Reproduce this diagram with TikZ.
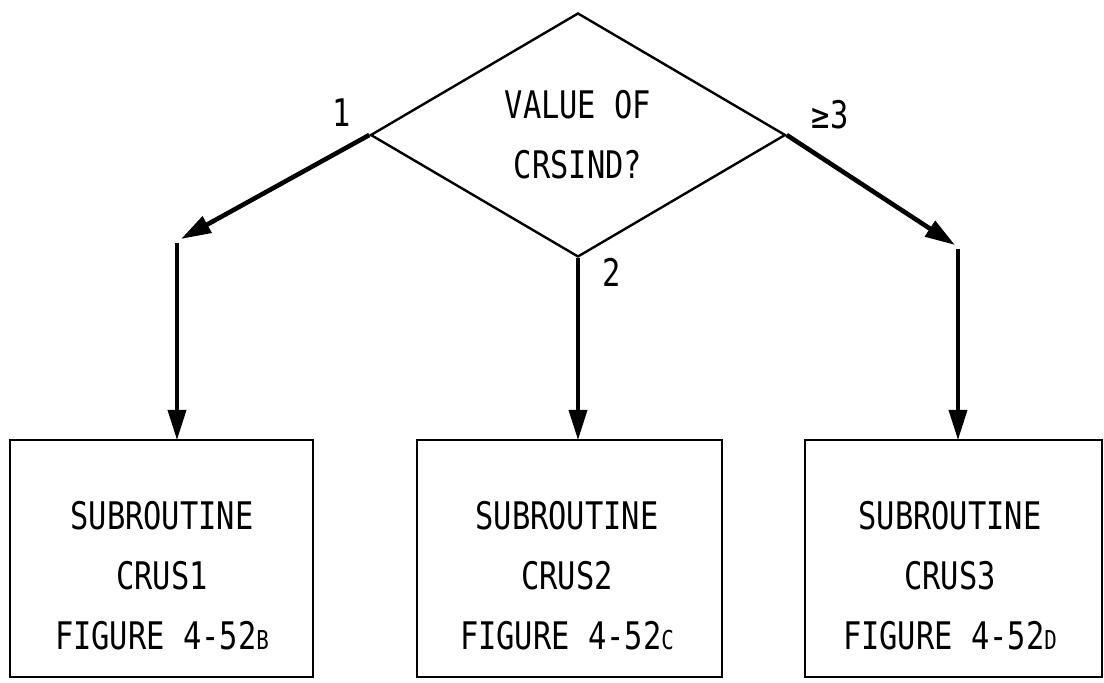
\documentclass[tikz,border=0pt]{standalone}
\usepackage{fontspec}
\setmainfont{DejaVu Sans Mono}
\usetikzlibrary{shapes.geometric,arrows.meta}
\newcommand{\nt}[1]{\scalebox{0.8}[1]{#1}}
\newcommand{\sml}[1]{{\fontsize{13pt}{13pt}\selectfont #1}}
\begin{document}
\begin{tikzpicture}[x=0.5pt,y=-0.5pt,
  txt/.style={font=\fontsize{19pt}{30pt}\selectfont, align=center, inner sep=0pt},
  decision/.style={diamond, draw, line width=1.2pt, minimum width=207.5pt, minimum height=122pt, inner sep=0pt, shape aspect=1.7, font=\fontsize{19pt}{30pt}\selectfont, align=center},
  subbox/.style={draw, line width=1.1pt, minimum height=118.5pt, inner sep=0pt, outer sep=0pt},
  diagarrow/.style={line width=2.3pt, -{Triangle[length=15pt,width=9pt]}},
  vertarrow/.style={line width=1.8pt, -{Triangle[length=15pt,width=9pt]}}]
\useasboundingbox (0,0) rectangle (1104,683);
\node[decision] (d) at (578,135) {\nt{VALUE OF}\\\nt{CRSIND?}};
\node[subbox, minimum width=151.5pt] (b1) at (161.5,558.5) {};
\node[subbox, minimum width=152.5pt] (b2) at (569.5,558.5) {};
\node[subbox, minimum width=148.5pt] (b3) at (953.5,558.5) {};
\node[txt] (t1) at (162,576) {\nt{SUBROUTINE}\\\nt{CRUS1}\\\nt{FIGURE 4-52\sml{B}}};
\node[txt] (t2) at (567,576) {\nt{SUBROUTINE}\\\nt{CRUS2}\\\nt{FIGURE 4-52\sml{C}}};
\node[txt] (t3) at (950,576) {\nt{SUBROUTINE}\\\nt{CRUS3}\\\nt{FIGURE 4-52\sml{D}}};
\node[txt] (l1) at (342,113) {\nt{1}};
\node[txt] (l2) at (612,272) {\nt{2}};
\node[txt] (l3) at (830,115) {\nt{≥3}};
\coordinate (lk) at (181,239);
\coordinate (lv) at (177,243);
\coordinate (rk) at (955,245);
\coordinate (rv) at (958,249);
\draw[diagarrow] (d.west) -- (lk);
\draw[vertarrow] (lv) -- (lv |- b1.north);
\draw[diagarrow] (d.east) -- (rk);
\draw[vertarrow] (rv) -- (rv |- b3.north);
\draw[vertarrow] (d.south) -- (d.south |- b2.north);
\end{tikzpicture}
\end{document}
